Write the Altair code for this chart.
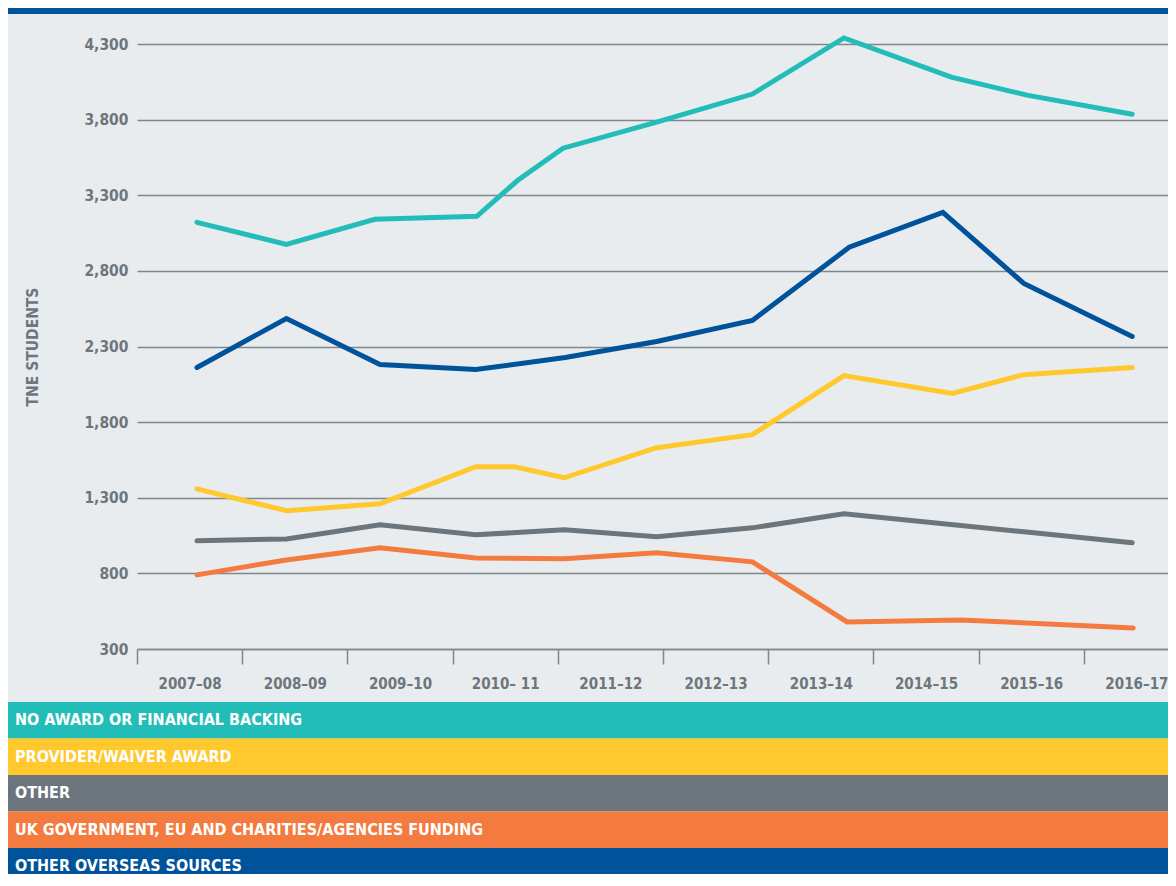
import altair as alt
import pandas as pd

# ---------------- data ----------------
YEARS = ["2007–08", "2008–09", "2009–10", "2010– 11", "2011–12",
         "2012–13", "2013–14", "2014–15", "2015–16", "2016–17"]

SERIES = [
    "NO AWARD OR FINANCIAL BACKING",
    "PROVIDER/WAIVER AWARD",
    "OTHER",
    "UK GOVERNMENT, EU AND CHARITIES/AGENCIES FUNDING",
    "OTHER OVERSEAS SOURCES",
]
COLORS = ["#23bdb9", "#ffc82c", "#6b757b", "#f37b40", "#00529b"]

# x = position along the year axis (0 = 2007–08 ... 9 = 2016–17), as drawn
NO_AWARD_X = [0.07, 0.92, 1.76, 2.73, 3.12, 3.55, 4.44, 5.35, 6.22, 7.24, 7.96, 8.96]
NO_AWARD_Y = [3121, 2975, 3141, 3161, 3399, 3611, 3783, 3969, 4340, 4081, 3962, 3836]

PROVIDER_X = [0.07, 0.92, 1.81, 2.72, 3.09, 3.56, 4.44, 5.35, 6.22, 7.25, 7.93, 8.96]
PROVIDER_Y = [1359, 1214, 1260, 1505, 1505, 1432, 1631, 1717, 2108, 1989, 2114, 2161]

OTHER_X = [0.07, 0.92, 1.81, 2.72, 3.56, 4.44, 5.35, 6.22, 7.93, 8.96]
OTHER_Y = [1015, 1028, 1121, 1055, 1088, 1042, 1101, 1194, 1075, 1002]

UKGOV_X = [0.07, 0.92, 1.81, 2.72, 3.56, 4.44, 5.35, 6.25, 7.33, 8.97]
UKGOV_Y = [790, 889, 969, 902, 896, 936, 876, 479, 492, 439]

OVERSEAS_X = [0.07, 0.92, 1.81, 2.72, 3.57, 4.44, 5.35, 6.27, 7.16, 7.93, 8.96]
OVERSEAS_Y = [2161, 2485, 2181, 2148, 2227, 2333, 2472, 2956, 3187, 2717, 2366]

Y_TICKS = [300, 800, 1300, 1800, 2300, 2800, 3300, 3800, 4300]

# ---------------- tables ----------------
rows = []
for name, xs, ys in [
    (SERIES[0], NO_AWARD_X, NO_AWARD_Y),
    (SERIES[1], PROVIDER_X, PROVIDER_Y),
    (SERIES[2], OTHER_X, OTHER_Y),
    (SERIES[3], UKGOV_X, UKGOV_Y),
    (SERIES[4], OVERSEAS_X, OVERSEAS_Y),
]:
    for i, (x, y) in enumerate(zip(xs, ys)):
        rows.append({"series": name, "pos": x, "students": y, "order": i})
lines_df = pd.DataFrame(rows)

legend_df = pd.DataFrame({"series": SERIES, "x0": [0] * 5, "x1": [1] * 5})
bar_df = pd.DataFrame({"x0": [0], "x1": [1]})

# ---------------- style ----------------
FONT = "Liberation Sans Narrow, DejaVu Sans Condensed, sans-serif"
BG = "#e9ecef"
GRID = "#7f868c"
TXT = "#6d767c"
LEFT, TOP = 129, 36
W, H = 1031, 605
TOTAL_H = 866
STEP = 105.2  # pixels per year
BAND_TOP, BAND_H = 658, 36.5

x_scale = alt.Scale(domain=[-0.5, -0.5 + W / STEP], nice=False, zero=False)
y_scale = alt.Scale(domain=[300, 4300], nice=False, zero=False)
color_scale = alt.Scale(domain=SERIES, range=COLORS)

label_expr = "[" + ",".join("'" + y + "'" for y in YEARS) + "][round(datum.value + 0.5)]"

lines = alt.Chart(lines_df).mark_line(
    strokeWidth=5, strokeCap="round", strokeJoin="miter", clip=False
).encode(
    x=alt.X(
        "pos:Q",
        scale=x_scale,
        axis=alt.Axis(
            values=[i - 0.5 for i in range(10)],
            labelExpr=label_expr,
            labelOffset=STEP / 2,
            labelFlush=False,
            labelOverlap=False,
            tickSize=15,
            tickColor=GRID,
            tickWidth=1.5,
            domainColor=GRID,
            domainWidth=1.5,
            grid=False,
            labelFont=FONT,
            labelFontSize=15,
            labelFontWeight="bold",
            labelColor=TXT,
            labelPadding=12,
            title=None,
        ),
    ),
    y=alt.Y(
        "students:Q",
        scale=y_scale,
        axis=alt.Axis(
            values=Y_TICKS,
            format=",d",
            grid=True,
            gridColor=GRID,
            gridWidth=1.5,
            ticks=False,
            domain=False,
            labelPadding=9,
            labelFont=FONT,
            labelFontSize=15.5,
            labelFontWeight="bold",
            labelColor=TXT,
            title="TNE STUDENTS",
            titleFont=FONT,
            titleFontSize=15.5,
            titleFontWeight="bold",
            titleColor=TXT,
            titleAngle=-90,
            titleX=-105,
            titleY=H / 2,
            titleAlign="center",
            titleBaseline="middle",
        ),
    ),
    color=alt.Color("series:N", scale=color_scale, legend=None),
    order="order:Q",
)

band_x = alt.Scale(domain=[0, 1], range=[-LEFT, W])
band_y = alt.Scale(domain=SERIES, range=[BAND_TOP, BAND_TOP + BAND_H * 5],
                   paddingInner=0, paddingOuter=0)

legend_rects = alt.Chart(legend_df).mark_rect().encode(
    x=alt.X("x0:Q", scale=band_x, axis=None),
    x2="x1:Q",
    y=alt.Y("series:N", scale=band_y, axis=None, sort=SERIES),
    color=alt.Color("series:N", scale=color_scale, legend=None),
)

legend_text = alt.Chart(legend_df).mark_text(
    align="left", baseline="middle", dx=7, color="white",
    font=FONT, fontSize=16, fontWeight="bold"
).encode(
    x=alt.X("x0:Q", scale=band_x, axis=None),
    y=alt.Y("series:N", scale=band_y, axis=None, sort=SERIES),
    text="series:N",
)

top_bar = alt.Chart(bar_df).mark_rect(color="#00529b").encode(
    x=alt.X("x0:Q", scale=band_x, axis=None),
    x2="x1:Q",
    y=alt.value(-TOP),
    y2=alt.value(-TOP + 6),
)

chart = alt.layer(
    lines, legend_rects, legend_text, top_bar
).resolve_scale(
    x="independent", y="independent"
).properties(
    width=W,
    height=H,
    background=BG,
    padding={"left": LEFT, "top": TOP, "right": 0, "bottom": TOTAL_H - TOP - H},
    autosize=alt.AutoSizeParams(type="none"),
).configure_view(stroke=None)

chart.save("out.html", embed_options={"renderer": "svg", "actions": False})
